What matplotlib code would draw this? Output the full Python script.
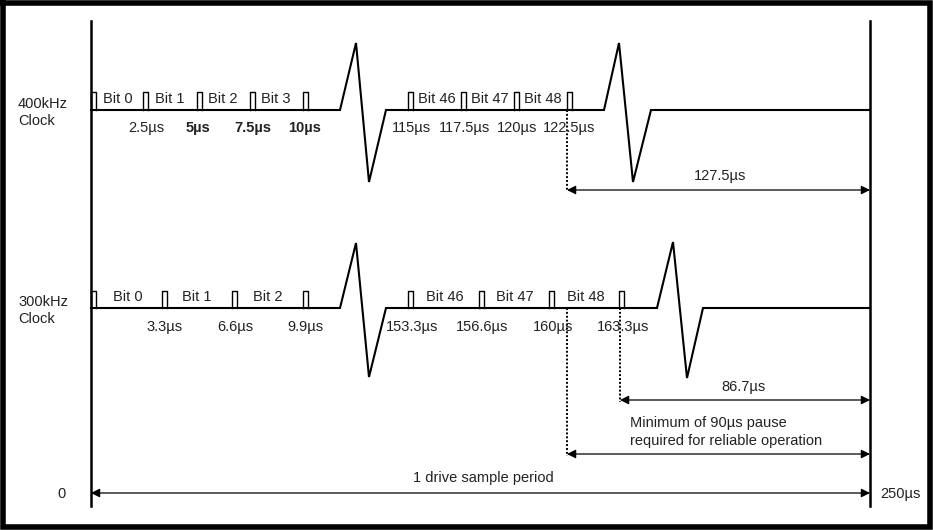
import matplotlib.pyplot as plt

plt.rcParams['font.family'] = ['Liberation Sans', 'DejaVu Sans']

# diagram is laid out on a 933 x 530 drawing grid (x to the right, y downwards)
left_x, right_x = 91, 870

# 400kHz clock trace
fast_base, fast_top = 110, 92
fast_pulse_x = [91, 143, 197, 250, 303, 408, 461, 514, 567]
fast_bits = ["Bit 0", "Bit 1", "Bit 2", "Bit 3", "Bit 46", "Bit 47", "Bit 48"]
fast_bit_x = [118, 170, 223, 276, 437, 490, 543]
fast_times = ["2.5µs", "5µs", "7.5µs", "10µs", "115µs", "117.5µs", "120µs", "122.5µs"]
fast_time_x = [146, 198, 253, 305, 411, 464, 517, 569]
fast_bold = [False, True, True, True, False, False, False, False]
fast_spikes = [[(340, 110), (356, 43), (369, 182), (386, 110)],
               [(604, 110), (619, 43), (633, 182), (651, 110)]]

# 300kHz clock trace
slow_base, slow_top = 308, 291
slow_pulse_x = [91, 162, 232, 303, 408, 479, 549, 619]
slow_bits = ["Bit 0", "Bit 1", "Bit 2", "Bit 46", "Bit 47", "Bit 48"]
slow_bit_x = [128, 197, 268, 445, 515, 586]
slow_times = ["3.3µs", "6.6µs", "9.9µs", "153.3µs", "156.6µs", "160µs", "163.3µs"]
slow_time_x = [165, 235, 305, 412, 482, 553, 623]
slow_spikes = [[(340, 308), (356, 243), (369, 377), (386, 308)],
               [(657, 308), (673, 242), (687, 378), (703, 308)]]

fig = plt.figure(figsize=(9.33, 5.30), dpi=100)
ax = fig.add_axes([0, 0, 1, 1])
ax.set_xlim(0, 933)
ax.set_ylim(530, 0)
ax.axis("off")

txt = dict(fontsize=10.5, color="#222222", va="center")

# outer frame
ax.plot([3, 930, 930, 3, 3], [3, 3, 527, 527, 3], color="black", lw=4,
        solid_joinstyle="miter")

# start / end of sample period
ax.plot([left_x, left_x], [21, 506], color="black", lw=1.8)
ax.plot([right_x, right_x], [21, 506], color="black", lw=1.8)


def trace(base, top, pulses, spikes, bits, bit_x, times, time_x, bold, bit_y, time_y):
    xs, ys = [left_x], [base]
    for sp in spikes:
        for px, py in sp:
            xs.append(px)
            ys.append(py)
    xs.append(right_x)
    ys.append(base)
    ax.plot(xs, ys, color="black", lw=1.5, solid_joinstyle="miter")
    for px in pulses:
        ax.plot([px, px, px + 4.5, px + 4.5], [base, top, top, base],
                color="black", lw=1.0)
    for b, bx in zip(bits, bit_x):
        ax.text(bx, bit_y, b, ha="center", **txt)
    for i, (t, tx) in enumerate(zip(times, time_x)):
        ax.text(tx, time_y, t, ha="center",
                fontweight="bold" if bold[i] else "normal", **txt)


trace(fast_base, fast_top, fast_pulse_x, fast_spikes, fast_bits, fast_bit_x,
      fast_times, fast_time_x, fast_bold, 99, 128)
trace(slow_base, slow_top, slow_pulse_x, slow_spikes, slow_bits, slow_bit_x,
      slow_times, slow_time_x, [False] * len(slow_times), 297, 327)

ax.text(18, 104, "400kHz", ha="left", **txt)
ax.text(18, 121, "Clock", ha="left", **txt)
ax.text(18, 302, "300kHz", ha="left", **txt)
ax.text(18, 319, "Clock", ha="left", **txt)

# dotted markers
ax.plot([567, 567], [fast_base, 191], color="black", lw=1.4, ls=(0, (1, 1)))
ax.plot([567, 567], [slow_base, 456], color="black", lw=1.4, ls=(0, (1, 1)))
ax.plot([620, 620], [slow_base, 402], color="black", lw=1.4, ls=(0, (1, 1)))


def span(x0, x1, y):
    ax.annotate("", xy=(x1, y), xytext=(x0, y),
                arrowprops=dict(arrowstyle="<|-|>", color="black", lw=0.9,
                                mutation_scale=13, shrinkA=0, shrinkB=0))


span(567, right_x, 190)
ax.text(720, 176, "127.5µs", ha="center", **txt)

span(620, right_x, 400)
ax.text(743, 387, "86.7µs", ha="center", **txt)

span(567, right_x, 454)
ax.text(630, 423, "Minimum of 90µs pause", ha="left", **txt)
ax.text(630, 441, "required for reliable operation", ha="left", **txt)

span(left_x, right_x, 493)
ax.text(483, 478, "1 drive sample period", ha="center", **txt)
ax.text(62, 494, "0", ha="center", **txt)
ax.text(880, 494, "250µs", ha="left", **txt)

fig.savefig("out.png", dpi=100)
